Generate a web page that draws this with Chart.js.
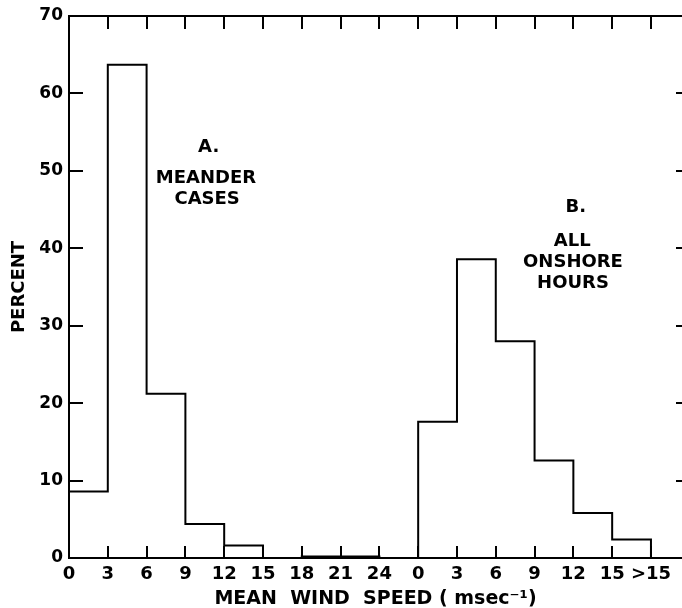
<!DOCTYPE html>
<html><head><meta charset="utf-8">
<script src="https://cdn.jsdelivr.net/npm/chart.js@4/dist/chart.umd.min.js"></script>
<style>html,body{margin:0;padding:0;background:#fff;overflow:hidden}#wrap{width:682px;height:608px;position:relative}</style>
</head><body><div id="wrap"><canvas id="c"></canvas></div>
<script>
// Tick labels along the x axis (bin edges): A = meander cases, B = all onshore hours
const tickLabels = ["0","3","6","9","12","15","18","21","24","0","3","6","9","12","15",">15"];
// Percent per 3 m/s bin
const meanderBins = [8.6, 63.7, 21.2, 4.4, 1.6, 0, 0.2, 0.2];   // 0-3 ... 21-24
const onshoreBins = [17.6, 38.6, 28.0, 12.6, 5.8, 2.4];        // 0-3 ... 15->15
const meanderStart = 0;   // index of first edge of A
const onshoreStart = 9;   // index of first edge of B
const yTicks = [0, 10, 20, 30, 40, 50, 60, 70];
const notes = [
  {text: "A.", x: 3.6, y: 53.0},
  {text: "MEANDER", x: 3.53, y: 49.0},
  {text: "CASES", x: 3.56, y: 46.3},
  {text: "B.", x: 13.06, y: 45.3},
  {text: "ALL", x: 12.97, y: 40.9},
  {text: "ONSHORE", x: 12.99, y: 38.2},
  {text: "HOURS", x: 12.99, y: 35.5}
];

function outline(bins, start) {
  const pts = [{x: start, y: 0}];
  bins.forEach((v, i) => { pts.push({x: start + i, y: v}); pts.push({x: start + i + 1, y: v}); });
  pts.push({x: start + bins.length, y: 0});
  return pts;
}

const FONT = '"DejaVu Sans", sans-serif';
Chart.defaults.font.family = FONT;
Chart.defaults.color = '#000';

const notePlugin = {
  id: 'notes',
  afterDatasetsDraw(chart) {
    const {ctx, scales: {x, y}} = chart;
    ctx.save();
    ctx.fillStyle = '#000';
    ctx.font = 'bold 18px ' + FONT;
    ctx.textAlign = 'center';
    ctx.textBaseline = 'middle';
    notes.forEach(n => ctx.fillText(n.text, x.getPixelForValue(n.x), y.getPixelForValue(n.y)));
    ctx.restore();
  }
};

const xTickBuild = s => { s.ticks = tickLabels.map((_, i) => ({value: i})); };
const yTickBuild = s => { s.ticks = yTicks.map(v => ({value: v})); };
const noPad = s => { s.paddingLeft = 0; s.paddingRight = 0; s.paddingTop = 0; s.paddingBottom = 0; };

new Chart(document.getElementById('c'), {
  type: 'line',
  data: {
    datasets: [
      {label: 'A', data: outline(meanderBins, meanderStart)},
      {label: 'B', data: outline(onshoreBins, onshoreStart)}
    ]
  },
  options: {
    responsive: true,
    maintainAspectRatio: false,
    animation: false,
    layout: {padding: {top: 16, left: 0, right: 0, bottom: 0}},
    elements: {
      line: {borderColor: '#000', borderWidth: 2, tension: 0, fill: false},
      point: {radius: 0, hoverRadius: 0}
    },
    datasets: {line: {clip: false}},
    plugins: {legend: {display: false}, tooltip: {enabled: false}},
    scales: {
      x: {
        type: 'linear', position: 'bottom', min: 0, max: 15.8,
        afterBuildTicks: xTickBuild,
        afterFit: s => { s.height = 50; noPad(s); },
        ticks: {callback: v => tickLabels[Math.round(v)], autoSkip: false, maxRotation: 0, padding: 18,
                font: {size: 18, weight: 'bold'}, color: '#000'},
        grid: {drawOnChartArea: false, tickLength: -12, color: '#000', lineWidth: 2},
        border: {color: '#000', width: 2},
        title: {display: true, text: 'MEAN  WIND  SPEED ( msec\u207B\u00B9)', color: '#000',
                font: {size: 19, weight: 'bold', lineHeight: 0.9}, padding: {top: 0, bottom: 0}}
      },
      xTop: {
        type: 'linear', position: 'top', min: 0, max: 15.8,
        afterBuildTicks: xTickBuild,
        afterFit: s => { s.height = 0; noPad(s); },
        ticks: {display: false},
        grid: {drawOnChartArea: false, tickLength: -13, color: '#000', lineWidth: 2},
        border: {color: '#000', width: 2}
      },
      y: {
        type: 'linear', position: 'left', min: 0, max: 70,
        afterBuildTicks: yTickBuild,
        afterFit: s => { s.width = 69; noPad(s); },
        ticks: {padding: 20, font: {size: 17, weight: 'bold'}, color: '#000'},
        grid: {drawOnChartArea: false, tickLength: -14, color: '#000', lineWidth: 2},
        border: {color: '#000', width: 2},
        title: {display: true, text: 'PERCENT', color: '#000', font: {size: 18, weight: 'bold'}, padding: {top: 9, bottom: 0}}
      },
      yRight: {
        type: 'linear', position: 'right', min: 0, max: 70,
        afterBuildTicks: yTickBuild,
        afterFit: s => { s.width = 0; noPad(s); },
        ticks: {display: false},
        grid: {drawOnChartArea: false, tickLength: -6, color: '#000', lineWidth: 2},
        border: {display: false}
      }
    }
  },
  plugins: [notePlugin]
});
</script>
</body></html>
